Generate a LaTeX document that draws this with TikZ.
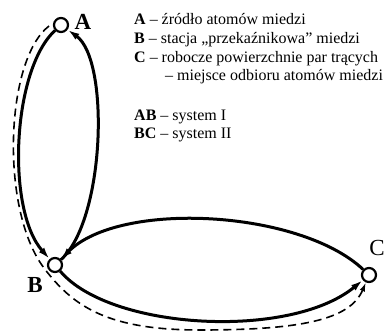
\documentclass[tikz,border=0pt]{standalone}
\usepackage{fontspec}
\setmainfont{Liberation Serif}
\usepackage{tikz}
\usetikzlibrary{arrows.meta}

\begin{document}
\begin{tikzpicture}[
    x=1pt, y=-1pt,
    station/.style={draw, circle, line width=2.2pt, fill=white, minimum size=14pt, inner sep=0pt},
    letter/.style={inner sep=0pt, font=\fontsize{23}{25}\selectfont\bfseries},
    legend/.style={anchor=base west, inner sep=0pt, font=\fontsize{16}{19}\selectfont},
    flow/.style={line width=3pt, -{Latex[length=12pt, width=7pt]}},
    transfer/.style={line width=1.6pt, dash pattern=on 8pt off 5pt, -{Latex[length=9pt, width=5.5pt]}}
]
\useasboundingbox (0,0) rectangle (390,331);

% Stations
\node[station] (A) at (61,25) {};
\node[station] (B) at (55,265) {};
\node[station] (C) at (369,275) {};
\coordinate (dstart) at (49,26);

% System I (AB)
\draw[flow] (A) .. controls (12,70) and (6,210) .. (B);
\draw[flow] (B) .. controls (105,220) and (110,60) .. (A);

% System II (BC)
\draw[flow] (C) .. controls (300,210) and (120,200) .. (B);
\draw[flow] (B) .. controls (110,330) and (290,340) .. (C);

% Transfer A -> C
\draw[transfer] (dstart) .. controls (5,60) and (0,210) .. (44,268)
    .. controls (74,308) and (110,330) .. (200,330)
    .. controls (300,330) and (350,320) .. (C);

% Labels
\node[letter] (labA) at (83,22) {A};
\node[letter] (labB) at (35,285) {B};
\node[letter, font=\fontsize{23}{25}\selectfont] (labC) at (377,248) {C};

% Legend
\node[legend] (legA) at (134,25) {\textbf{A} – źródło atomów miedzi};
\node[legend] (legB) at (134,44) {\textbf{B} – stacja „przekaźnikowa” miedzi};
\node[legend] (legC) at (134,63) {\textbf{C} – robocze powierzchnie par trących};
\node[legend] (legCb) at (165,81) {– miejsce odbioru atomów miedzi};
\node[legend] (legAB) at (134,121) {\textbf{AB} – system I};
\node[legend] (legBC) at (134,139) {\textbf{BC} – system II};

\end{tikzpicture}
\end{document}
